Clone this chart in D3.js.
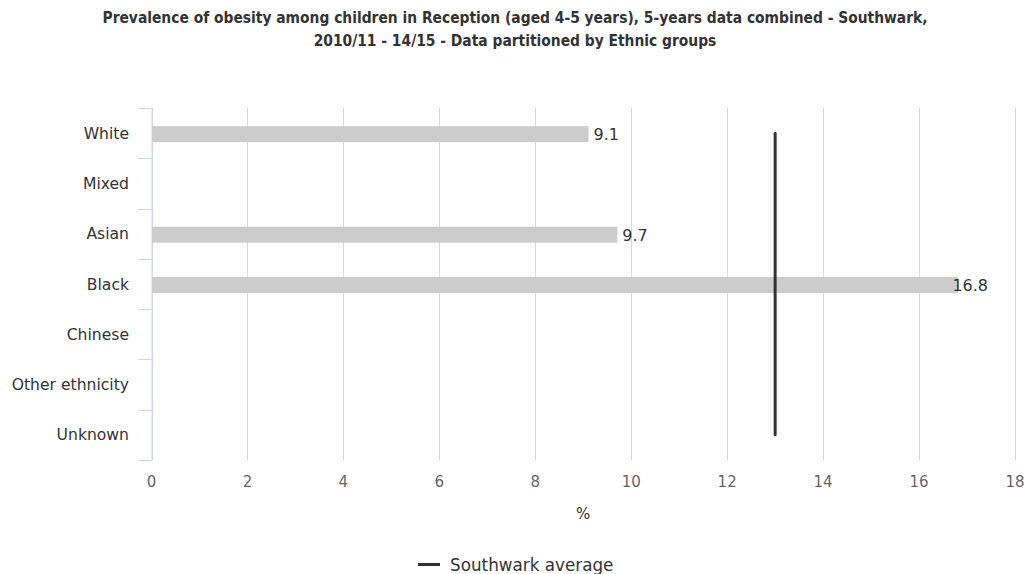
<!DOCTYPE html>
<html><head><meta charset="utf-8">
<script src="https://cdn.jsdelivr.net/npm/d3@7"></script>
<style>body{margin:0;background:#fff}svg{display:block}</style>
</head><body>
<svg id="c" width="1027" height="574"></svg>
<script>
const categories = ["White","Mixed","Asian","Black","Chinese","Other ethnicity","Unknown"];
const values = [9.1, null, 9.7, 16.8, null, null, null];
const averageValue = 13.0;
const averageLabel = "Southwark average";
const xTicks = [0,2,4,6,8,10,12,14,16,18];
const titleLines = ["Prevalence of obesity among children in Reception (aged 4-5 years), 5-years data combined - Southwark,","2010/11 - 14/15 - Data partitioned by Ethnic groups"];
const xTitle = "%";

(function(){
const svg = d3.select("#c");
const font = "'DejaVu Sans', sans-serif";
const pL = 151.5, pR = 1015, pT = 108, pB = 460;
const x = d3.scaleLinear().domain([0,18]).range([pL,pR]);
const y = d3.scaleBand().domain(categories).range([pT,pB]);

// title
svg.selectAll("text.title").data(titleLines).enter().append("text")
  .attr("x",515).attr("y",(d,i)=>23+i*23).attr("text-anchor","middle")
  .attr("font-family","'DejaVu Sans Condensed', 'DejaVu Sans', sans-serif").attr("font-stretch","condensed")
  .attr("font-weight","bold").attr("font-size",15.4).attr("fill","#333").text(d=>d);

// gridlines
svg.append("g").selectAll("line").data(xTicks).enter().append("line")
  .attr("x1",d=>Math.round(x(d))+0.5).attr("x2",d=>Math.round(x(d))+0.5)
  .attr("y1",pT).attr("y2",pB).attr("stroke","#d8d8d8").attr("stroke-width",1);

// x tick labels
svg.append("g").selectAll("text").data(xTicks).enter().append("text")
  .attr("x",d=>x(d)).attr("y",487).attr("text-anchor","middle")
  .attr("font-family",font).attr("font-size",15).attr("fill","#666").text(d=>d);
svg.append("text").attr("x",(pL+pR)/2).attr("y",519).attr("text-anchor","middle")
  .attr("font-family",font).attr("font-size",15).attr("fill","#333").text(xTitle);

// y axis
const yAxis = svg.append("g");
yAxis.append("line").attr("x1",pL+0.5).attr("x2",pL+0.5).attr("y1",pT).attr("y2",pB)
  .attr("stroke","#ccd6eb").attr("stroke-width",1);
const bounds = categories.map(c=>y(c)).concat([pB]);
yAxis.selectAll("line.tick").data(bounds).enter().append("line")
  .attr("x1",138).attr("x2",pL).attr("y1",d=>Math.round(d)+0.5).attr("y2",d=>Math.round(d)+0.5)
  .attr("stroke","#ccd6eb").attr("stroke-width",1);
yAxis.selectAll("text").data(categories).enter().append("text")
  .attr("x",129).attr("y",d=>y(d)+y.bandwidth()/2+5.5).attr("text-anchor","end")
  .attr("font-family",font).attr("font-size",15.6).attr("fill","#333").text(d=>d);

// bars
const data = categories.map((c,i)=>({c, v: values[i]})).filter(d=>d.v!=null);
const bh = 16;
svg.append("g").selectAll("rect").data(data).enter().append("rect")
  .attr("x",x(0)+0.5).attr("y",d=>y(d.c)+y.bandwidth()/2-bh/2+1)
  .attr("width",d=>x(d.v)-x(0)).attr("height",bh).attr("fill","#cccccc");
const labelLimit = pR - 27;
svg.append("g").selectAll("text").data(data).enter().append("text")
  .attr("y",d=>y(d.c)+y.bandwidth()/2+7)
  .attr("font-family",font).attr("font-size",16).attr("fill","#333").text(d=>d.v.toFixed(1))
  .each(function(d){
    const w = this.getComputedTextLength();
    const x0 = Math.min(x(d.v)+5.5, labelLimit - w);
    d3.select(this).attr("x", x0);
  });

// average line
svg.append("line").attr("x1",x(averageValue)).attr("x2",x(averageValue))
  .attr("y1",y(categories[0])+y.bandwidth()/2).attr("y2",y(categories[categories.length-1])+y.bandwidth()/2)
  .attr("stroke","#333").attr("stroke-width",3).attr("stroke-linecap","round");

// legend
svg.append("line").attr("x1",418).attr("x2",440).attr("y1",564.5).attr("y2",564.5)
  .attr("stroke","#333").attr("stroke-width",3);
svg.append("text").attr("x",450).attr("y",571).attr("font-family",font).attr("font-size",16.8)
  .attr("fill","#333").text(averageLabel);
})();
</script>
</body></html>
